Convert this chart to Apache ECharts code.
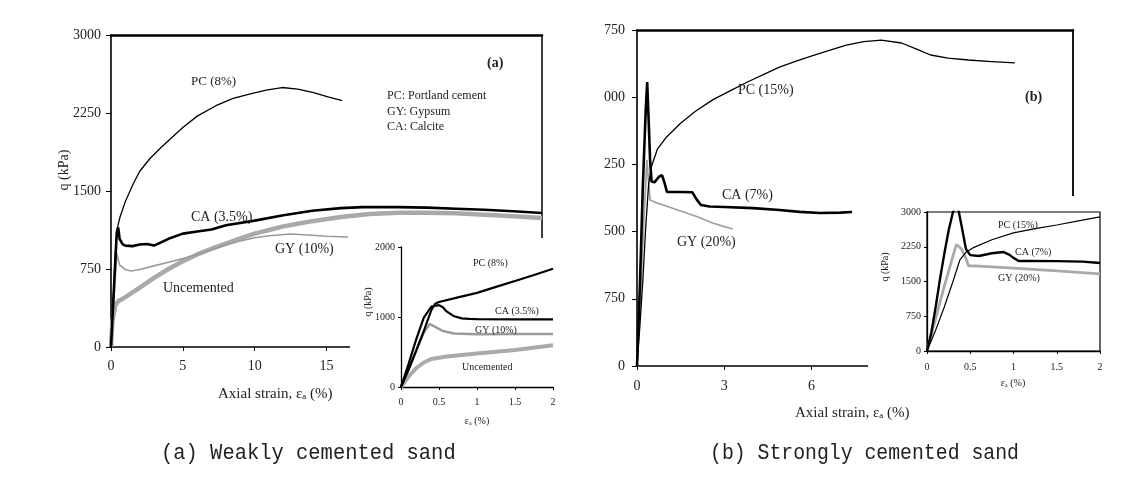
<!DOCTYPE html>
<html>
<head>
<meta charset="utf-8">
<script src="https://cdn.jsdelivr.net/npm/echarts@6/dist/echarts.min.js"></script>
<style>
  html, body { margin: 0; padding: 0; background: #fff; }
  #chart { width: 1142px; height: 480px; }
</style>
</head>
<body>
<div id="chart"></div>
<script>
// (a) weakly cemented sand, main plot: axial strain (%) vs q (kPa)
const aPcX = [0, 0.15, 0.3, 0.45, 0.63, 1, 1.55, 2, 2.7, 3.5, 4.2, 5, 6, 7.3, 8.5, 9.7, 10.8, 11.9, 13, 14.1, 15.1, 16.1];
const aPcY = [0, 450, 900, 1150, 1250, 1400, 1570, 1690, 1810, 1920, 2010, 2110, 2220, 2320, 2390, 2435, 2470, 2495, 2480, 2445, 2405, 2368];
const aCaX = [0, 0.2, 0.4, 0.5, 0.6, 0.8, 1, 1.5, 2, 2.5, 3, 4, 5, 6, 7, 8, 10, 12, 14, 16, 17.5, 20, 22, 24, 26, 28, 30];
const aCaY = [0, 550, 1100, 1150, 1040, 990, 975, 970, 985, 990, 975, 1040, 1090, 1110, 1130, 1170, 1215, 1266, 1310, 1335, 1345, 1345, 1340, 1330, 1320, 1305, 1288];
const aGyX = [0, 0.2, 0.4, 0.6, 1, 1.4, 2, 3, 4, 5, 6, 7, 8, 9, 10, 11, 12.5, 14, 15, 16.5];
const aGyY = [0, 450, 900, 790, 745, 731, 745, 780, 815, 850, 890, 935, 980, 1020, 1050, 1070, 1087, 1075, 1065, 1058];
const aUnX = [0, 0.1, 0.3, 0.5, 1, 2, 3, 4, 5, 6, 7, 8, 9, 10, 11, 12, 13, 14, 16, 18, 20, 22, 24, 26, 28, 30];
const aUnY = [0, 250, 400, 440, 480, 570, 665, 750, 825, 890, 945, 995, 1045, 1090, 1125, 1160, 1185, 1210, 1250, 1278, 1290, 1292, 1285, 1272, 1258, 1240];

// (a) inset, first 2 % of strain
const iaPcX = [0, 0.1, 0.2, 0.3, 0.4, 0.45, 0.5, 0.75, 1, 1.25, 1.5, 1.75, 2];
const iaPcY = [0, 250, 520, 800, 1100, 1190, 1215, 1280, 1345, 1430, 1515, 1600, 1690];
const iaCaX = [0, 0.1, 0.2, 0.3, 0.4, 0.5, 0.55, 0.6, 0.7, 0.8, 0.9, 1, 1.5, 2];
const iaCaY = [0, 330, 680, 990, 1150, 1170, 1140, 1080, 1010, 980, 972, 970, 965, 965];
const iaGyX = [0, 0.1, 0.2, 0.3, 0.38, 0.45, 0.55, 0.7, 1, 1.5, 2];
const iaGyY = [0, 250, 520, 780, 900, 860, 800, 765, 752, 757, 757];
const iaUnX = [0, 0.1, 0.2, 0.3, 0.4, 0.6, 1, 1.5, 2];
const iaUnY = [0, 150, 270, 350, 400, 435, 480, 530, 595];

// (b) strongly cemented sand, main plot
const bPcX = [0, 0.1, 0.2, 0.3, 0.4, 0.5, 0.7, 1, 1.5, 2, 2.6, 3.2, 3.8, 4.4, 4.9, 5.5, 6.1, 6.7, 7.2, 7.8, 8.4, 9.1, 9.6, 10.1, 10.7, 11.4, 12.2, 13];
const bPcY = [0, 450, 950, 1550, 2030, 2230, 2420, 2550, 2710, 2840, 2970, 3070, 3170, 3260, 3335, 3405, 3470, 3530, 3580, 3620, 3638, 3605, 3540, 3471, 3435, 3415, 3398, 3382];
const bCaX = [0, 0.1, 0.2, 0.3, 0.35, 0.4, 0.45, 0.5, 0.6, 0.75, 0.86, 0.95, 1.03, 1.5, 1.9, 2.05, 2.2, 2.5, 3, 4, 4.9, 5.6, 6.3, 7, 7.4];
const bCaY = [0, 900, 2000, 2850, 3170, 2750, 2300, 2060, 2050, 2110, 2130, 2040, 1942, 1942, 1940, 1860, 1797, 1780, 1775, 1762, 1741, 1720, 1707, 1712, 1719];
const bGyX = [0, 0.1, 0.2, 0.3, 0.34, 0.4, 0.45, 0.6, 0.9, 1.5, 2.1, 2.6, 3, 3.3];
const bGyY = [0, 650, 1400, 2050, 2300, 2050, 1853, 1830, 1797, 1730, 1663, 1596, 1555, 1529];

// (b) inset
const ibPcX = [0, 0.1, 0.2, 0.3, 0.38, 0.45, 0.53, 0.75, 1, 1.25, 1.5, 1.75, 2];
const ibPcY = [0, 450, 950, 1500, 1965, 2130, 2225, 2400, 2548, 2640, 2720, 2810, 2894];
const ibCaX = [0, 0.05, 0.1, 0.15, 0.2, 0.25, 0.3, 0.35, 0.4, 0.45, 0.5, 0.6, 0.75, 0.88, 0.95, 1, 1.06, 1.2, 1.5, 1.8, 2];
const ibCaY = [0, 400, 950, 1550, 2100, 2600, 3000, 3170, 2700, 2200, 2070, 2050, 2110, 2138, 2080, 2010, 1944, 1944, 1940, 1930, 1900];
const ibGyX = [0, 0.1, 0.2, 0.3, 0.34, 0.4, 0.45, 0.48, 0.6, 1, 1.5, 2];
const ibGyY = [0, 700, 1400, 2050, 2300, 2200, 2000, 1840, 1830, 1790, 1730, 1663];

const zip = (xs, ys) => xs.map((x, i) => [x, ys[i]]);
const serif = '"Liberation Serif", "Times New Roman", serif';
const mono = '"Liberation Mono", "DejaVu Sans Mono", monospace';
const plain = v => String(v);

const chart = echarts.init(document.getElementById('chart'));

// bottom / left axis with labels
function xAx(grid, max, interval, size, margin, inset) {
  return {
    gridIndex: grid, type: 'value', min: 0, max: max, interval: interval,
    zlevel: inset ? 1 : 0, z: inset ? 6 : 0,
    axisLine: { onZero: false, lineStyle: { color: '#000', width: inset ? 1.3 : 1.6 } },
    axisTick: { length: inset ? 3 : 4, lineStyle: { color: '#000', width: 1 } },
    axisLabel: { fontFamily: serif, fontSize: size, color: '#222', margin: margin, formatter: plain },
    splitLine: { show: false }
  };
}
function yAx(grid, max, interval, size, margin, inset, fmt) {
  return {
    gridIndex: grid, type: 'value', min: 0, max: max, interval: interval,
    zlevel: inset ? 1 : 0, z: inset ? 6 : 0,
    axisLine: { onZero: false, lineStyle: { color: '#000', width: inset ? 1.3 : 1.6 } },
    axisTick: { length: inset ? 3 : 5, lineStyle: { color: '#000', width: 1 } },
    axisLabel: { fontFamily: serif, fontSize: size, color: '#222', margin: margin, formatter: fmt || plain },
    splitLine: { show: false }
  };
}
// frame line only (top / right)
function frame(grid, max, pos, width) {
  return {
    gridIndex: grid, type: 'value', min: 0, max: max, position: pos,
    axisLine: { onZero: false, lineStyle: { color: '#000', width: width } },
    axisTick: { show: false }, axisLabel: { show: false }, splitLine: { show: false }
  };
}

function line(xi, data, color, width, inset) {
  return {
    type: 'line', xAxisIndex: xi, yAxisIndex: xi, data: data,
    symbol: 'none', silent: true, animation: false,
    zlevel: inset ? 1 : 0, z: inset ? 7 : 2,
    lineStyle: { color: color, width: width }
  };
}

function txt(text, x, y, size, o) {
  o = o || {};
  return {
    type: 'text', x: x, y: y, rotation: o.rot || 0, scaleX: o.sx || 1,
    zlevel: o.top ? 1 : 0, z: 20, silent: true,
    style: {
      text: text, fill: o.color || '#222',
      font: (o.bold ? 'bold ' : '') + size + 'px ' + (o.family || serif),
      textAlign: o.align || 'left', textVerticalAlign: 'middle'
    }
  };
}

const trimLabel = v => (v >= 1000 ? String(v).slice(-3) : String(v));

const option = {
  backgroundColor: '#fff',
  animation: false,
  grid: [
    { left: 111, top: 35, width: 431, height: 312 },
    { left: 637, top: 30, width: 436, height: 336 },
    { left: 401, top: 247, width: 152, height: 140, zlevel: 1, z: 5 },
    { left: 927, top: 212, width: 173, height: 139, zlevel: 1, z: 5,
      show: true, borderColor: '#000', borderWidth: 1.2, backgroundColor: 'transparent' }
  ],
  xAxis: [
    xAx(0, 30, 5, 14, 12, false),
    xAx(1, 15, 3, 14, 13, false),
    xAx(2, 2, 0.5, 10, 10, true),
    xAx(3, 2, 0.5, 10, 11, true),
    frame(0, 30, 'top', 2.5),
    frame(1, 15, 'top', 2.5)
  ],
  yAxis: [
    yAx(0, 3000, 750, 14, 10, false),
    yAx(1, 3750, 750, 14, 12, false, trimLabel),
    yAx(2, 2000, 1000, 10, 6, true),
    yAx(3, 3000, 750, 10, 6, true),
    frame(0, 3000, 'right', 1.5),
    frame(1, 3750, 'right', 1.8)
  ],
  series: [
    line(0, zip(aUnX, aUnY), '#a9a9a9', 4.5),
    line(0, zip(aGyX, aGyY), '#9a9a9a', 1.6),
    line(0, zip(aCaX, aCaY), '#000', 2.6),
    line(0, zip(aPcX, aPcY), '#000', 1.3),

    line(1, zip(bGyX, bGyY), '#a0a0a0', 1.8),
    line(1, zip(bCaX, bCaY), '#000', 2.6),
    line(1, zip(bPcX, bPcY), '#000', 1.3),

    line(2, zip(iaUnX, iaUnY), '#aaaaaa', 4, true),
    line(2, zip(iaGyX, iaGyY), '#9a9a9a', 2.5, true),
    line(2, zip(iaCaX, iaCaY), '#000', 2.2, true),
    line(2, zip(iaPcX, iaPcY), '#000', 2.2, true),

    line(3, zip(ibGyX, ibGyY), '#a9a9a9', 2.8, true),
    line(3, zip(ibCaX, ibCaY), '#000', 2.4, true),
    line(3, zip(ibPcX, ibPcY), '#000', 1.2, true)
  ],
  graphic: { elements: [
    // white panels behind the insets
    { type: 'rect', zlevel: 1, z: 0, silent: true,
      shape: { x: 350, y: 238, width: 230, height: 194 }, style: { fill: '#fff' } },
    { type: 'rect', zlevel: 1, z: 0, silent: true,
      shape: { x: 868, y: 196, width: 274, height: 204 }, style: { fill: '#fff' } },

    // (a) main
    txt('PC (8%)', 191, 82, 13),
    txt('CA (3.5%)', 191, 217, 14),
    txt('GY (10%)', 275, 249, 14),
    txt('Uncemented', 163, 288, 14),
    txt('(a)', 487, 63, 14, { bold: true }),
    txt('PC: Portland cement', 387, 96, 12),
    txt('GY: Gypsum', 387, 112, 12),
    txt('CA: Calcite', 387, 127, 12),
    txt('q (kPa)', 64, 170, 14, { rot: Math.PI / 2, align: 'center' }),
    txt('Axial strain, \u03b5\u2090 (%)', 218, 394, 15),

    // (b) main
    txt('PC (15%)', 738, 90, 14),
    txt('CA (7%)', 722, 195, 14),
    txt('GY (20%)', 677, 242, 14),
    txt('(b)', 1025, 97, 14, { bold: true }),
    txt('Axial strain, \u03b5\u2090 (%)', 795, 413, 15),

    // (a) inset
    txt('PC (8%)', 473, 263, 10, { top: true }),
    txt('CA (3.5%)', 495, 311, 10, { top: true }),
    txt('GY (10%)', 475, 330, 10, { top: true }),
    txt('Uncemented', 462, 367, 10, { top: true }),
    txt('q (kPa)', 368, 302, 10, { top: true, rot: Math.PI / 2, align: 'center' }),
    txt('\u03b5\u2090 (%)', 477, 421, 10, { top: true, align: 'center' }),

    // (b) inset
    txt('PC (15%)', 998, 225, 10, { top: true }),
    txt('CA (7%)', 1015, 252, 10, { top: true }),
    txt('GY (20%)', 998, 278, 10, { top: true }),
    txt('q (kPa)', 885, 267, 10, { top: true, rot: Math.PI / 2, align: 'center' }),
    txt('\u03b5\u2090 (%)', 1013, 383, 10, { top: true, align: 'center' }),

    // captions
    txt('(a) Weakly cemented sand', 161, 453, 22, { family: mono, color: '#222', sx: 0.93 }),
    txt('(b) Strongly cemented sand', 710, 453, 22, { family: mono, color: '#222', sx: 0.9 })
  ] }
};

chart.setOption(option);
</script>
</body>
</html>
